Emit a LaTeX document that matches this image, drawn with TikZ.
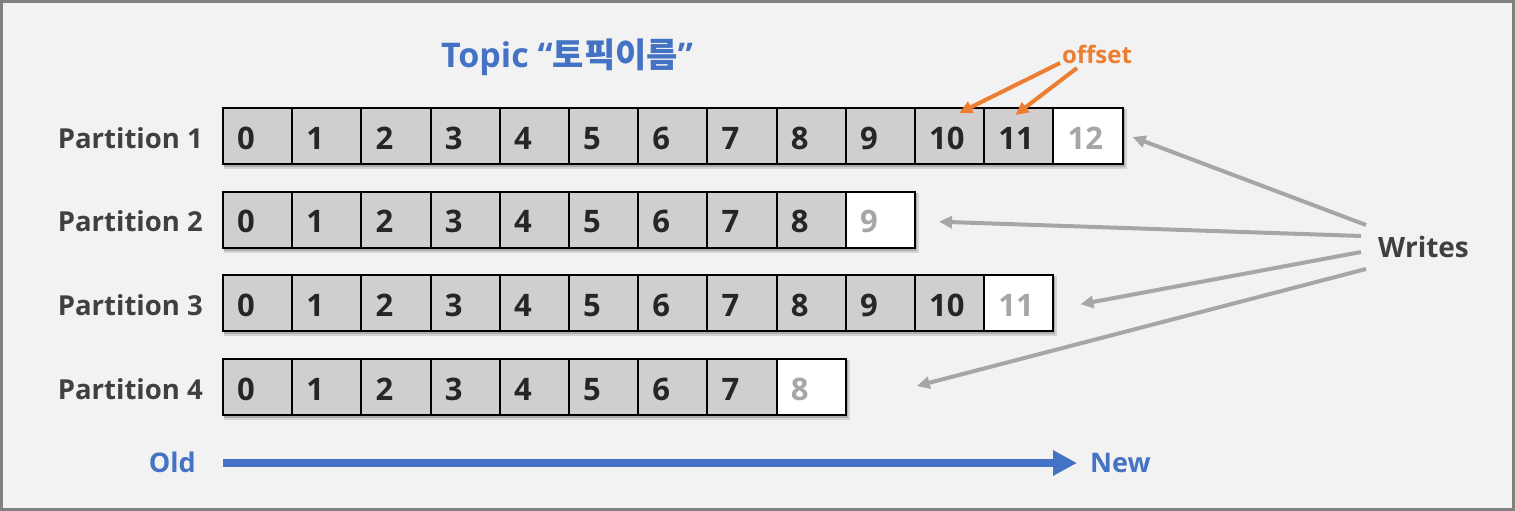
\documentclass[tikz,border=0pt]{standalone}
\usepackage{fontspec}
\setmainfont{Open Sans}
\newfontfamily\krfont{Noto Sans CJK KR}
\usetikzlibrary{arrows.meta}
\definecolor{bgc}{HTML}{F2F2F2}
\definecolor{framec}{HTML}{808080}
\definecolor{cellfill}{HTML}{D0CECE}
\definecolor{numdark}{HTML}{262626}
\definecolor{numlight}{HTML}{A6A6A6}
\definecolor{labelgray}{HTML}{404040}
\definecolor{kblue}{HTML}{4472C4}
\definecolor{korange}{HTML}{ED7D31}
\definecolor{arrgray}{HTML}{A6A6A6}
\tikzset{
  cellbox/.style={draw=black, line width=2pt, fill=cellfill, minimum width=69.2pt, minimum height=56pt, inner sep=0pt, anchor=north west},
  newcell/.style={cellbox, fill=white},
  numtext/.style={inner sep=0pt, anchor=base west, text=numdark, font=\fontsize{31}{36}\selectfont\bfseries},
  newnum/.style={numtext, text=numlight},
  plabel/.style={inner sep=0pt, anchor=base east, text=labelgray, font=\fontsize{27.5}{34}\selectfont\bfseries},
  wlabel/.style={inner sep=0pt, anchor=base west, text=labelgray, font=\fontsize{28}{34}\selectfont\bfseries},
  bluetext/.style={inner sep=0pt, text=kblue, font=\fontsize{27}{32}\selectfont\bfseries},
  olabel/.style={inner sep=0pt, text=korange, font=\fontsize{24}{28}\selectfont\bfseries},
  writearrow/.style={draw=arrgray, line width=4pt, -{Triangle[length=13pt,width=12pt]}},
  offarrow/.style={draw=korange, line width=4pt, -{Triangle[length=13pt,width=12pt]}},
  timearrow/.style={draw=kblue, line width=8pt, -{Triangle[length=24pt,width=24pt]}},
}
\begin{document}
\begin{tikzpicture}[x=1pt,y=-1pt]
\useasboundingbox (0,0) rectangle (1515,511);
\fill[bgc] (0,0) rectangle (1515,511);
\draw[framec, line width=3pt] (1.5,1.5) rectangle (1513.5,509.5);

% title
\node[inner sep=0pt, anchor=base, text=kblue, font=\fontsize{34}{40}\selectfont\bfseries] (title) at (567,67) {Topic “{\krfont 토픽이름}”};

% rows
\foreach \r/\top/\n in {1/107/12, 2/190.7/9, 3/274.3/11, 4/358/8} {
  \fill[black, opacity=.12] ({222+2},{\top+2}) rectangle ({222+(\n+1)*69.2+5},{\top+56+6});
  \fill[black, opacity=.18] ({222+2},{\top+2}) rectangle ({222+(\n+1)*69.2+3},{\top+56+4});
  \node[plabel] (p\r) at (203,{\top+28+13}) {Partition \r};
  \foreach \i in {0,...,\n} {
    \pgfmathsetmacro\cx{222+\i*69.2}
    \ifnum\i=\n
      \node[newcell] (c\r-\i) at (\cx,\top) {};
      \node[newnum] (n\r-\i) at ([xshift=15pt,yshift=-13pt]c\r-\i.west) {\i};
    \else
      \node[cellbox] (c\r-\i) at (\cx,\top) {};
      \node[numtext] (n\r-\i) at ([xshift=15pt,yshift=-13pt]c\r-\i.west) {\i};
    \fi
  }
}

% offset
\node[olabel] (offset) at (1097,54) {offset};
\coordinate (o1) at (1060,63);
\coordinate (o2) at (1077,68);
\draw[offarrow] (o1) -- ([xshift=-26pt,yshift=-6pt]c1-10.north east);
\draw[offarrow] (o2) -- ([xshift=-39pt,yshift=-8pt]c1-11.north east);

% writes
\node[wlabel] (writes) at (1378,257) {Writes};
\coordinate (w1) at (1366,225);
\coordinate (w2) at (1361,236);
\coordinate (w3) at (1361,252);
\coordinate (w4) at (1366,269);
\draw[writearrow] (w1) -- ([xshift=9pt,yshift=-1pt]c1-12.east);
\draw[writearrow] (w2) -- ([xshift=23pt,yshift=-2pt]c2-9.east);
\draw[writearrow] (w3) -- ([xshift=26pt,yshift=-1pt]c3-11.east);
\draw[writearrow] (w4) -- ([xshift=70pt,yshift=1pt]c4-8.east);

% old -> new
\node[bluetext, anchor=base east] (old) at (196,472) {Old};
\node[bluetext, anchor=base west] (new) at (1090,472) {New};
\draw[timearrow] ([xshift=27pt,yshift=9pt]old.base east) -- ([xshift=-13pt,yshift=9pt]new.base west);
\end{tikzpicture}
\end{document}
